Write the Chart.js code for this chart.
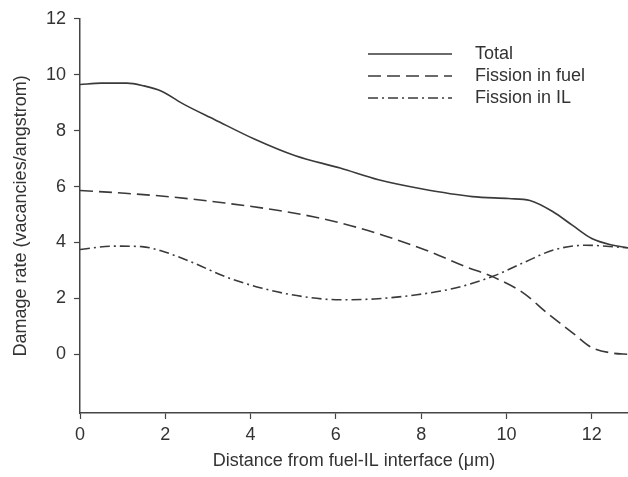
<!DOCTYPE html>
<html>
<head>
<meta charset="utf-8">
<script src="https://cdn.jsdelivr.net/npm/chart.js@4"></script>
<style>
  html, body { margin: 0; padding: 0; background: #fff; }
  #wrap { width: 628px; height: 477px; position: relative; }
</style>
</head>
<body>
<div id="wrap"><canvas id="c" width="628" height="477"></canvas></div>
<script>
// ---- data ----
const seriesLabels = ['Total', 'Fission in fuel', 'Fission in IL'];

const totalX = [0, 0.5, 1.1, 1.5, 1.9, 2.45, 3.15, 4.1, 5.05, 6.1, 7.0, 8.0, 9.2, 10.05, 10.55, 11.1, 11.55, 12.0, 12.5, 12.85];
const totalY = [9.65, 9.7, 9.7, 9.6, 9.42, 8.93, 8.40, 7.69, 7.10, 6.66, 6.24, 5.92, 5.64, 5.57, 5.50, 5.09, 4.61, 4.14, 3.90, 3.81];

const fuelX = [0, 1.05, 2.2, 3.4, 4.55, 5.5, 6.35, 7.1, 8.1, 9.05, 9.7, 10.4, 10.95, 11.55, 12.0, 12.5, 12.85];
const fuelY = [5.86, 5.76, 5.62, 5.41, 5.17, 4.91, 4.60, 4.26, 3.73, 3.13, 2.76, 2.19, 1.48, 0.77, 0.24, 0.04, 0.0];

const ilX = [0, 0.8, 1.45, 1.9, 2.6, 3.4, 4.25, 5.2, 6.1, 6.9, 7.9, 8.8, 9.7, 10.45, 11.1, 11.85, 12.85];
const ilY = [3.75, 3.87, 3.85, 3.70, 3.31, 2.78, 2.37, 2.07, 1.95, 1.98, 2.13, 2.37, 2.80, 3.31, 3.73, 3.90, 3.81];

const xTicks = [0, 2, 4, 6, 8, 10, 12];
const yTicks = [0, 2, 4, 6, 8, 10, 12];

const xTitle = 'Distance from fuel-IL interface (\u03BCm)';
const yTitle = 'Damage rate (vacancies/angstrom)';

// ---- build chart ----
const toPoints = (xs, ys) => xs.map((x, i) => ({ x: x, y: ys[i] }));
const FONT = "'Liberation Sans', Arial, sans-serif";
const INK = '#333333';

const legendPlugin = {
  id: 'placedLegend',
  afterDraw(chart, args, opts) {
    const ctx = chart.ctx;
    ctx.save();
    chart.data.datasets.forEach((ds, i) => {
      const y = opts.rows[i];
      ctx.beginPath();
      ctx.strokeStyle = ds.borderColor;
      ctx.lineWidth = ds.borderWidth;
      ctx.setLineDash(ds.borderDash || []);
      ctx.moveTo(opts.lineX0, y);
      ctx.lineTo(opts.lineX1, y);
      ctx.stroke();
      ctx.setLineDash([]);
      ctx.fillStyle = INK;
      ctx.font = '18px ' + FONT;
      ctx.textBaseline = 'middle';
      ctx.textAlign = 'left';
      ctx.fillText(ds.label, opts.textX, y);
    });
    ctx.restore();
  }
};

new Chart(document.getElementById('c'), {
  type: 'line',
  data: {
    datasets: [
      { label: seriesLabels[0], data: toPoints(totalX, totalY), borderColor: '#3a3a3a', borderWidth: 1.6, borderDash: [] },
      { label: seriesLabels[1], data: toPoints(fuelX, fuelY), borderColor: '#3a3a3a', borderWidth: 1.6, borderDash: [13, 6] },
      { label: seriesLabels[2], data: toPoints(ilX, ilY), borderColor: '#3a3a3a', borderWidth: 1.6, borderDash: [10, 4, 2, 4] }
    ]
  },
  options: {
    responsive: false,
    animation: false,
    devicePixelRatio: 1,
    layout: { padding: { top: 18, right: 0, bottom: 0, left: 0 } },
    elements: {
      point: { radius: 0, hoverRadius: 0 },
      line: { cubicInterpolationMode: 'monotone', fill: false }
    },
    plugins: {
      legend: { display: false },
      tooltip: { enabled: false },
      placedLegend: { rows: [54, 76, 98], lineX0: 368, lineX1: 452, textX: 475 }
    },
    scales: {
      x: {
        type: 'linear',
        min: 0,
        max: 12.85,
        afterBuildTicks: s => { s.ticks = xTicks.map(v => ({ value: v })); },
        afterFit: s => { s.height = 64; },
        grid: { drawOnChartArea: false, drawTicks: true, tickLength: 6, color: '#444', tickWidth: 1.2 },
        border: { display: true, color: '#444', width: 1.5 },
        ticks: { color: INK, font: { family: FONT, size: 18 }, padding: 5, maxRotation: 0 },
        title: { display: true, text: xTitle, color: INK, font: { family: FONT, size: 18 }, padding: { top: 0, bottom: 5 } }
      },
      y: {
        type: 'linear',
        min: -2.1,
        max: 12,
        afterBuildTicks: s => { s.ticks = yTicks.map(v => ({ value: v })); },
        afterFit: s => { s.width = 80; },
        grid: { drawOnChartArea: false, drawTicks: true, tickLength: 6, color: '#444', tickWidth: 1.2 },
        border: { display: true, color: '#444', width: 1.5 },
        ticks: { color: INK, font: { family: FONT, size: 18 }, padding: 8 },
        title: { display: true, text: yTitle, color: INK, font: { family: FONT, size: 18 }, padding: { top: 10, bottom: 0 } }
      }
    }
  },
  plugins: [legendPlugin]
});
</script>
</body>
</html>
